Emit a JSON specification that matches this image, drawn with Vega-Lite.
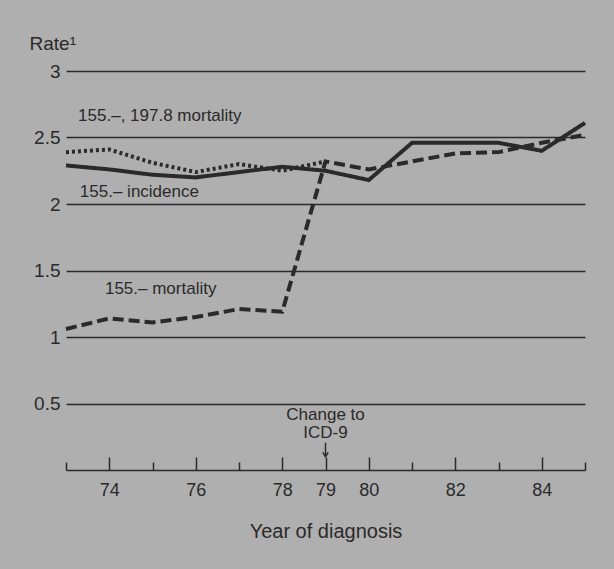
{
  "$schema": "https://vega.github.io/schema/vega-lite/v6.json",
  "width": 519,
  "height": 399,
  "autosize": {"type": "none"},
  "padding": {"left": 66, "top": 71, "right": 29, "bottom": 99},
  "background": "#afafaf",
  "config": {
    "view": {"stroke": null},
    "font": "Liberation Sans",
    "axis": {"labelColor": "#2a2a2a", "titleColor": "#2a2a2a", "labelFont": "Liberation Sans", "titleFont": "Liberation Sans", "titleFontWeight": "normal"}
  },
  "datasets": {
    "series": [
      {"series": "incidence", "year": 73, "rate": 2.29},
      {"series": "incidence", "year": 74, "rate": 2.26},
      {"series": "incidence", "year": 75, "rate": 2.22},
      {"series": "incidence", "year": 76, "rate": 2.2},
      {"series": "incidence", "year": 77, "rate": 2.24},
      {"series": "incidence", "year": 78, "rate": 2.28},
      {"series": "incidence", "year": 79, "rate": 2.25},
      {"series": "incidence", "year": 80, "rate": 2.18},
      {"series": "incidence", "year": 81, "rate": 2.46},
      {"series": "incidence", "year": 82, "rate": 2.46},
      {"series": "incidence", "year": 83, "rate": 2.46},
      {"series": "incidence", "year": 84, "rate": 2.4},
      {"series": "incidence", "year": 85, "rate": 2.61},
      {"series": "mortality155", "year": 73, "rate": 1.06},
      {"series": "mortality155", "year": 74, "rate": 1.14},
      {"series": "mortality155", "year": 75, "rate": 1.11},
      {"series": "mortality155", "year": 76, "rate": 1.15},
      {"series": "mortality155", "year": 77, "rate": 1.21},
      {"series": "mortality155", "year": 78, "rate": 1.19},
      {"series": "mortality155", "year": 79, "rate": 2.32},
      {"series": "mortality155", "year": 80, "rate": 2.26},
      {"series": "mortality155", "year": 81, "rate": 2.32},
      {"series": "mortality155", "year": 82, "rate": 2.38},
      {"series": "mortality155", "year": 83, "rate": 2.39},
      {"series": "mortality155", "year": 84, "rate": 2.46},
      {"series": "mortality155", "year": 85, "rate": 2.52},
      {"series": "mortality1978", "year": 73, "rate": 2.39},
      {"series": "mortality1978", "year": 74, "rate": 2.41},
      {"series": "mortality1978", "year": 75, "rate": 2.31},
      {"series": "mortality1978", "year": 76, "rate": 2.24},
      {"series": "mortality1978", "year": 77, "rate": 2.3},
      {"series": "mortality1978", "year": 78, "rate": 2.25},
      {"series": "mortality1978", "year": 79, "rate": 2.32}
    ],
    "labels": [
      {"year": 73.28, "rate": 2.66, "text": "155.–, 197.8 mortality", "align": "left"},
      {"year": 73.32, "rate": 2.09, "text": "155.– incidence", "align": "left"},
      {"year": 73.9, "rate": 1.36, "text": "155.– mortality", "align": "left"},
      {"year": 79, "rate": 0.41, "text": "Change to", "align": "center"},
      {"year": 79, "rate": 0.275, "text": "ICD-9", "align": "center"}
    ],
    "arrow": [
      {"year": 79, "rate": 0.205, "rate2": 0.1}
    ]
  },
  "layer": [
    {
      "data": {"name": "series"},
      "mark": {"type": "line", "strokeWidth": 4, "color": "#2a2a2a", "strokeCap": "butt"},
      "encoding": {
        "x": {
          "field": "year", "type": "quantitative",
          "scale": {"domain": [73, 85], "nice": false, "zero": false},
          "axis": {
            "values": [73, 74, 75, 76, 77, 78, 79, 80, 81, 82, 83, 84, 85],
            "labelExpr": "indexof([74,76,78,79,80,82,84], datum.value) >= 0 ? datum.label : ''",
            "grid": false,
            "domainColor": "#2a2a2a",
            "domainWidth": 1.5,
            "tickColor": "#2a2a2a",
            "tickWidth": 1.5,
            "tickSize": {"condition": {"test": "indexof([74,76,78,79,80,82,84], datum.value) >= 0", "value": -13}, "value": -8},
            "labelFontSize": 18,
            "labelPadding": 24,
            "title": "Year of diagnosis",
            "titleFontSize": 20,
            "titlePadding": 22
          }
        },
        "y": {
          "field": "rate", "type": "quantitative",
          "scale": {"domain": [0, 3], "nice": false},
          "axis": {
            "values": [0.5, 1, 1.5, 2, 2.5, 3],
            "labelExpr": "'' + datum.value",
            "grid": true,
            "gridColor": "#2a2a2a",
            "gridWidth": 1.5,
            "gridOpacity": 1,
            "domain": false,
            "ticks": false,
            "labelFontSize": 19,
            "labelPadding": 6,
            "title": "Rate¹",
            "titleAngle": 0,
            "titleAlign": "left",
            "titleBaseline": "middle",
            "titleX": -37,
            "titleY": -28,
            "titleFontSize": 19
          }
        },
        "detail": {"field": "series"},
        "strokeDash": {
          "field": "series", "type": "nominal",
          "scale": {"domain": ["incidence", "mortality155", "mortality1978"], "range": [[1, 0], [11, 5], [3, 3]]},
          "legend": null
        }
      }
    },
    {
      "data": {"name": "labels"},
      "transform": [{"filter": "datum.align == 'left'"}],
      "mark": {"type": "text", "fontSize": 17, "color": "#2a2a2a", "baseline": "middle", "align": "left"},
      "encoding": {
        "x": {"field": "year", "type": "quantitative"},
        "y": {"field": "rate", "type": "quantitative"},
        "text": {"field": "text"}
      }
    },
    {
      "data": {"name": "labels"},
      "transform": [{"filter": "datum.align == 'center'"}],
      "mark": {"type": "text", "fontSize": 17, "color": "#2a2a2a", "baseline": "middle", "align": "center"},
      "encoding": {
        "x": {"field": "year", "type": "quantitative"},
        "y": {"field": "rate", "type": "quantitative"},
        "text": {"field": "text"}
      }
    },
    {
      "data": {"name": "arrow"},
      "mark": {"type": "rule", "strokeWidth": 1.5, "color": "#2a2a2a"},
      "encoding": {
        "x": {"field": "year", "type": "quantitative"},
        "y": {"field": "rate", "type": "quantitative"},
        "y2": {"field": "rate2"}
      }
    },
    {
      "data": {"name": "arrow"},
      "mark": {"type": "point", "shape": "M-1,-1.6L0,0L1,-1.6", "size": 30, "filled": false, "strokeWidth": 1.5, "color": "#2a2a2a", "opacity": 1},
      "encoding": {
        "x": {"field": "year", "type": "quantitative"},
        "y": {"field": "rate2", "type": "quantitative"}
      }
    }
  ]
}
